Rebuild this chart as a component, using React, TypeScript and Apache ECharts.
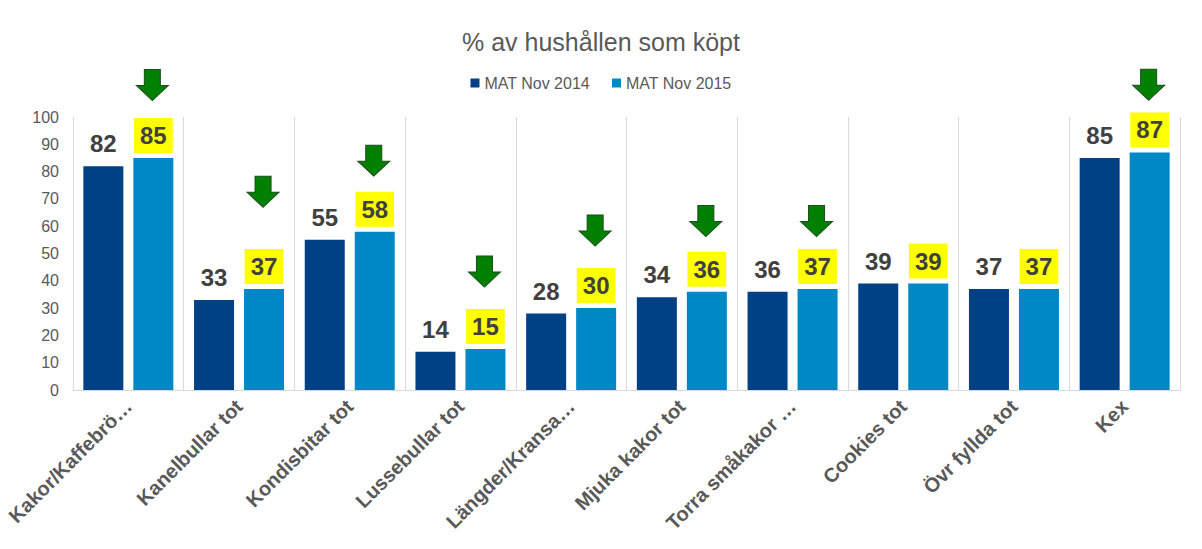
import React, { useEffect, useRef } from "react";
import * as echarts from "echarts";

const categories = [
  "Kakor/Kaffebrö…",
  "Kanelbullar tot",
  "Kondisbitar tot",
  "Lussebullar tot",
  "Längder/Kransa…",
  "Mjuka kakor tot",
  "Torra småkakor …",
  "Cookies tot",
  "Övr fyllda tot",
  "Kex",
];
const seriesNames = ["MAT Nov 2014", "MAT Nov 2015"];
const values2014 = [82, 33, 55, 14, 28, 34, 36, 39, 37, 85];
const values2015 = [85, 37, 58, 15, 30, 36, 37, 39, 37, 87];
// Level (in axis units) of the green "down" arrow annotations; null = no arrow
const arrowLevels: (number | null)[] = [111.7, 72.6, 84, 43.4, 58.4, 61.9, 61.9, null, null, 111.8];
const yTicks = { min: 0, max: 100, interval: 10 };

const FONT = "'Liberation Sans', Arial, sans-serif";
const ARROW_PATH = "path://M8,0 L24,0 L24,16 L32,16 L16,31 L0,16 L8,16 Z";

export default function App() {
  const ref = useRef<HTMLDivElement>(null);
  useEffect(() => {
    if (!ref.current) return;
    const chart = echarts.init(ref.current, undefined, { renderer: "svg" });
    const labelCommon = {
      show: true,
      position: "top" as const,
      distance: 5,
      fontFamily: FONT,
      fontSize: 24,
      fontWeight: "bold" as const,
      color: "#404040",
      lineHeight: 27,
      padding: [4, 6, 4, 6],
    };
    chart.setOption({
      animation: false,
      textStyle: { fontFamily: FONT },
      title: {
        text: "% av hushållen som köpt",
        left: "center",
        top: 24,
        textStyle: { fontFamily: FONT, fontSize: 25, fontWeight: "normal", color: "#595959" },
      },
      legend: {
        data: seriesNames,
        top: 70,
        left: "center",
        itemWidth: 9,
        itemHeight: 9,
        itemGap: 22,
        icon: "rect",
        textStyle: { fontFamily: FONT, fontSize: 16, color: "#595959" },
      },
      grid: { left: 73, right: 22, top: 117, bottom: 159, containLabel: false },
      xAxis: {
        type: "category",
        data: categories,
        axisLine: { show: true, lineStyle: { color: "#d9d9d9", width: 1 } },
        axisTick: { show: false },
        splitLine: { show: true, lineStyle: { color: "#d9d9d9", width: 1 } },
        axisLabel: {
          rotate: 45,
          interval: 0,
          margin: 13,
          fontFamily: FONT,
          fontSize: 20,
          fontWeight: "bold",
          color: "#595959",
        },
      },
      yAxis: {
        type: "value",
        min: yTicks.min,
        max: yTicks.max,
        interval: yTicks.interval,
        axisLine: { show: false },
        axisTick: { show: false },
        splitLine: { show: false },
        axisLabel: { fontFamily: FONT, fontSize: 16, color: "#595959", margin: 14 },
      },
      series: [
        {
          name: seriesNames[0],
          type: "bar",
          data: values2014,
          barWidth: 40,
          barGap: "25%",
          itemStyle: { color: "#004185" },
          label: { ...labelCommon },
        },
        {
          name: seriesNames[1],
          type: "bar",
          data: values2015,
          barWidth: 40,
          barGap: "25%",
          itemStyle: { color: "#0087C6" },
          label: { ...labelCommon, backgroundColor: "#FFFF00" },
        },
        {
          name: "arrows",
          type: "scatter",
          clip: false,
          silent: true,
          symbol: ARROW_PATH,
          symbolSize: [32, 31],
          symbolOffset: [24, 0],
          itemStyle: { color: "#008000", borderColor: "#1d4d1d", borderWidth: 1, opacity: 1 },
          data: arrowLevels
            .map((v, i) => (v == null ? null : [categories[i], v]))
            .filter((d) => d != null),
          z: 5,
        },
      ],
    });
    return () => chart.dispose();
  }, []);
  return (
    <div
      ref={ref}
      style={{ position: "fixed", left: 0, top: 0, width: 1202, height: 549, background: "#fff" }}
    />
  );
}
